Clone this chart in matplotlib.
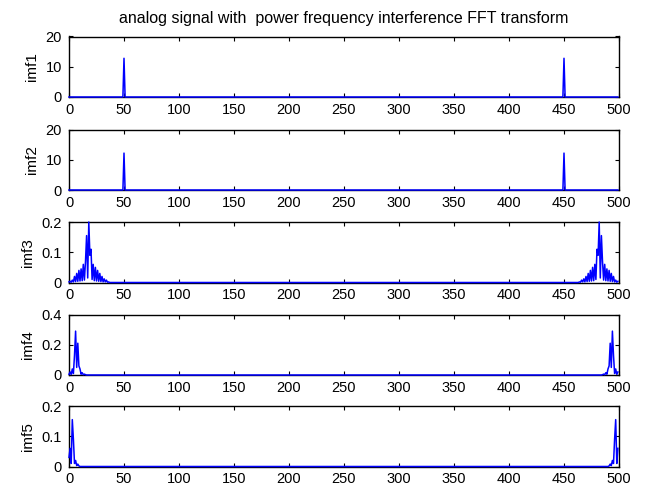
import numpy as np
import matplotlib
matplotlib.use("Agg")
import matplotlib.pyplot as plt

plt.rcParams['font.family'] = ['Liberation Sans', 'DejaVu Sans']

# ================= DATA =================
N_BINS = 500
TITLE = "analog signal with  power frequency interference FFT transform"
LABELS = ["imf1", "imf2", "imf3", "imf4", "imf5"]
YLIMS = [20, 20, 0.2, 0.4, 0.2]
YTICKS = [[0, 10, 20], [0, 10, 20], [0, 0.1, 0.2], [0, 0.2, 0.4], [0, 0.1, 0.2]]
XTICKS = [0, 50, 100, 150, 200, 250, 300, 350, 400, 450, 500]

# nonzero bins of each spectrum, everything else sits at ~0
imf1_bins = [50, 450]
imf1_vals = [12.8, 12.8]

imf2_bins = [50, 450]
imf2_vals = [12.2, 12.2]

imf3_bins_left = list(range(0, 37))
imf3_vals_left = [0.002, 0.004, 0.001, 0.008, 0.002, 0.020, 0.003, 0.030, 0.004,
                  0.040, 0.005, 0.045, 0.006, 0.060, 0.008, 0.070, 0.155, 0.015,
                  0.200, 0.090, 0.110, 0.010, 0.060, 0.006, 0.050, 0.005, 0.040,
                  0.004, 0.030, 0.003, 0.020, 0.002, 0.012, 0.002, 0.008, 0.001,
                  0.002]
imf3_bins_right = list(range(464, 500))
imf3_vals_right = [0.002, 0.001, 0.008, 0.002, 0.012, 0.002, 0.020, 0.003, 0.030,
                   0.004, 0.040, 0.005, 0.050, 0.006, 0.060, 0.010, 0.110, 0.090,
                   0.200, 0.015, 0.155, 0.070, 0.008, 0.060, 0.006, 0.045, 0.005,
                   0.040, 0.004, 0.030, 0.003, 0.020, 0.002, 0.008, 0.001, 0.004]

imf4_bins_left = list(range(0, 16))
imf4_vals_left = [0.005, 0.020, 0.004, 0.040, 0.010, 0.130, 0.290, 0.050, 0.210,
                  0.060, 0.040, 0.005, 0.015, 0.002, 0.006, 0.002]
imf4_bins_right = list(range(485, 500))
imf4_vals_right = [0.002, 0.006, 0.002, 0.015, 0.005, 0.040, 0.060, 0.210, 0.050,
                   0.290, 0.130, 0.010, 0.040, 0.004, 0.020]

imf5_bins_left = list(range(0, 10))
imf5_vals_left = [0.030, 0.060, 0.010, 0.155, 0.090, 0.010, 0.020, 0.003, 0.008,
                  0.002]
imf5_bins_right = list(range(491, 500))
imf5_vals_right = [0.002, 0.008, 0.003, 0.020, 0.010, 0.090, 0.155, 0.010, 0.060]
# ===============================================================


def build_spectrum(pairs):
    spec = np.zeros(N_BINS)
    for bins, vals in pairs:
        spec[bins] = vals
    return spec


spectra = [
    build_spectrum([(imf1_bins, imf1_vals)]),
    build_spectrum([(imf2_bins, imf2_vals)]),
    build_spectrum([(imf3_bins_left, imf3_vals_left), (imf3_bins_right, imf3_vals_right)]),
    build_spectrum([(imf4_bins_left, imf4_vals_left), (imf4_bins_right, imf4_vals_right)]),
    build_spectrum([(imf5_bins_left, imf5_vals_left), (imf5_bins_right, imf5_vals_right)]),
]
freq = np.arange(N_BINS)

W, H = 645, 488
fig = plt.figure(figsize=(W / 100, H / 100), dpi=100)

# axes placement in pixels (left, top) like MATLAB subplot(5,1,k)
left_px, width_px, height_px = 69, 550, 60.5
tops_px = [36.5, 129.5, 222, 314.5, 406]

for k in range(5):
    ax = fig.add_axes([left_px / W, 1 - (tops_px[k] + height_px) / H,
                       width_px / W, height_px / H])
    ax.plot(freq, spectra[k], color=(0, 0, 1), linewidth=1.1,
            clip_on=False, zorder=3)
    ax.set_xlim(0, 500)
    ax.set_ylim(0, YLIMS[k])
    ax.set_xticks(XTICKS)
    ax.set_yticks(YTICKS[k])
    ax.set_yticklabels([f"{t:g}" for t in YTICKS[k]])
    ax.tick_params(direction='in', length=3, width=0.8, top=True, right=True,
                   labelsize=10.5, colors='black')
    ax.tick_params(axis='x', pad=4)
    ax.tick_params(axis='y', pad=5)
    for s in ax.spines.values():
        s.set_linewidth(1.0)
    ax.set_ylabel(LABELS[k], fontsize=11, labelpad=5)

fig.text((left_px + width_px / 2) / W, 1 - 18 / H, TITLE,
         ha='center', va='center', fontsize=11.5)

plt.savefig("out.png", dpi=100)
